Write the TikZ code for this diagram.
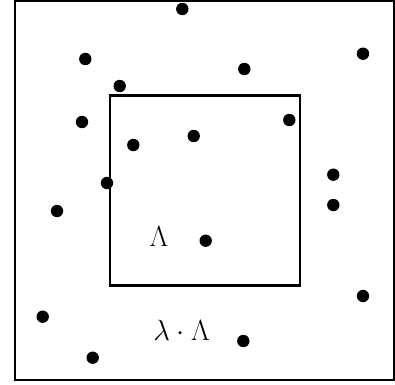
\documentclass[tikz,border=0pt]{standalone}
\usepackage{amsmath,amssymb}
\usepackage{tikz}
\usepackage{xcolor}

\begin{document}
\begin{tikzpicture}[x=0.025cm,y=-0.025cm,line width=1.7pt]
  \useasboundingbox (0,0) rectangle (395,384);
  \draw (15.3,0.8) rectangle (394,379.7);
  \draw (109.7,95.5) rectangle (300.3,285.5);
  \foreach \x/\y in {182.3/9, 85.3/59, 119.7/86, 82/122, 133.3/145, 193.7/136,
      107/183, 244.3/69, 363/53.7, 289.3/120, 333.3/174.7, 57/211, 42.7/316.7,
      92.7/357.7, 333.3/205, 205.7/240.7, 363/296, 243.3/341}
    \fill (\x,\y) circle (6.2);
  \node[font=\fontsize{20}{24}\selectfont,inner sep=0pt] (lam) at (159,236.7) {$\Lambda$};
  \node[font=\fontsize{20}{24}\selectfont,inner sep=0pt] (lamlam) at (181.5,330.5) {$\lambda\cdot\Lambda$};
\end{tikzpicture}
\end{document}
